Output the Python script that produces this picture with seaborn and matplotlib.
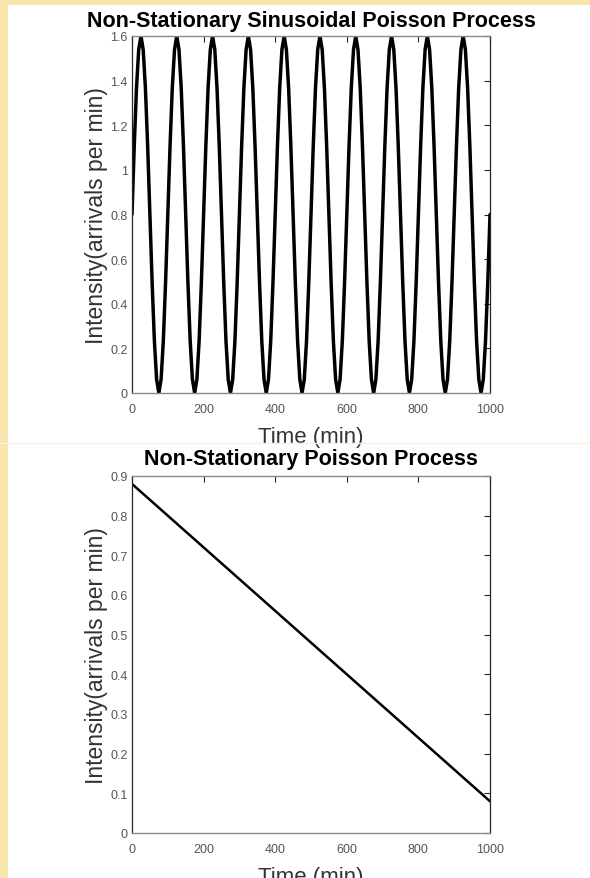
import matplotlib
matplotlib.use('Agg')
import matplotlib.pyplot as plt
import seaborn as sns
import numpy as np
import pandas as pd
from matplotlib.patches import Rectangle
from matplotlib.lines import Line2D

# intensity every 6.25 min (period ~100 min)
sin_values = [
    0.8, 1.106, 1.366, 1.539, 1.6, 1.539, 1.366, 1.106, 0.8, 0.494, 0.234, 0.061, 0.0, 0.061, 0.234, 0.494,
    0.8, 1.106, 1.366, 1.539, 1.6, 1.539, 1.366, 1.106, 0.8, 0.494, 0.234, 0.061, 0.0, 0.061, 0.234, 0.494,
    0.8, 1.106, 1.366, 1.539, 1.6, 1.539, 1.366, 1.106, 0.8, 0.494, 0.234, 0.061, 0.0, 0.061, 0.234, 0.494,
    0.8, 1.106, 1.366, 1.539, 1.6, 1.539, 1.366, 1.106, 0.8, 0.494, 0.234, 0.061, 0.0, 0.061, 0.234, 0.494,
    0.8, 1.106, 1.366, 1.539, 1.6, 1.539, 1.366, 1.106, 0.8, 0.494, 0.234, 0.061, 0.0, 0.061, 0.234, 0.494,
    0.8, 1.106, 1.366, 1.539, 1.6, 1.539, 1.366, 1.106, 0.8, 0.494, 0.234, 0.061, 0.0, 0.061, 0.234, 0.494,
    0.8, 1.106, 1.366, 1.539, 1.6, 1.539, 1.366, 1.106, 0.8, 0.494, 0.234, 0.061, 0.0, 0.061, 0.234, 0.494,
    0.8, 1.106, 1.366, 1.539, 1.6, 1.539, 1.366, 1.106, 0.8, 0.494, 0.234, 0.061, 0.0, 0.061, 0.234, 0.494,
    0.8, 1.106, 1.366, 1.539, 1.6, 1.539, 1.366, 1.106, 0.8, 0.494, 0.234, 0.061, 0.0, 0.061, 0.234, 0.494,
    0.8, 1.106, 1.366, 1.539, 1.6, 1.539, 1.366, 1.106, 0.8, 0.494, 0.234, 0.061, 0.0, 0.061, 0.234, 0.494,
    0.8,
]
sin_time = np.linspace(0, 1000, len(sin_values))

# linear decreasing intensity
lin_time = [0, 1000]
lin_values = [0.88, 0.08]

titles = ['Non-Stationary Sinusoidal Poisson Process', 'Non-Stationary Poisson Process']
xlabel = 'Time (min)'
ylabel = 'Intensity(arrivals per min)'
x_ticks = [0, 200, 400, 600, 800, 1000]
y_ticks_top = [0, 0.2, 0.4, 0.6, 0.8, 1.0, 1.2, 1.4, 1.6]
y_labels_top = ['0', '0.2', '0.4', '0.6', '0.8', '1', '1.2', '1.4', '1.6']
y_ticks_bottom = [0, 0.1, 0.2, 0.3, 0.4, 0.5, 0.6, 0.7, 0.8, 0.9]
y_labels_bottom = ['0', '0.1', '0.2', '0.3', '0.4', '0.5', '0.6', '0.7', '0.8', '0.9']

sns.set_style('white')
plt.rcParams['font.family'] = ['Liberation Sans', 'DejaVu Sans']

W, H = 590, 879
fig = plt.figure(figsize=(W / 100, H / 100), dpi=100, facecolor='#f9e4ae')
# white sheet over the beige backdrop
fig.add_artist(Rectangle((8 / W, 0), 1, 1 - 6 / H, transform=fig.transFigure,
                         facecolor='white', edgecolor='none', zorder=-1))
fig.add_artist(Line2D([0, 1], [1 - 444 / H] * 2, transform=fig.transFigure,
                      color='#faf3dc', lw=1))

ax1 = fig.add_axes([132 / W, 1 - 394 / H, 358 / W, 357 / H])
ax2 = fig.add_axes([132 / W, 1 - 834 / H, 358 / W, 357 / H])

df1 = pd.DataFrame({'t': sin_time, 'rate': sin_values})
df2 = pd.DataFrame({'t': lin_time, 'rate': lin_values})
sns.lineplot(data=df1, x='t', y='rate', ax=ax1, color='black', linewidth=2.5)
sns.lineplot(data=df2, x='t', y='rate', ax=ax2, color='black', linewidth=1.8)


def style(ax, title, yticks, ylabels, ymax, tpad):
    ax.set_xlim(0, 1000)
    ax.set_ylim(0, ymax)
    ax.set_xticks(x_ticks)
    ax.set_xticklabels([str(v) for v in x_ticks])
    ax.set_yticks(yticks)
    ax.set_yticklabels(ylabels)
    ax.tick_params(direction='in', length=4, width=0.8, top=True, right=True,
                   labelsize=9, labelcolor='#555555', color='#262626')
    ax.tick_params(axis='x', pad=7)
    ax.tick_params(axis='y', pad=3)
    for s in ['left', 'right']:
        ax.spines[s].set_color('#262626')
        ax.spines[s].set_linewidth(0.9)
    for s in ['top', 'bottom']:
        ax.spines[s].set_color('#8a8a8a')
        ax.spines[s].set_linewidth(1.0)
    ax.set_title(title, fontsize=15.5, fontweight='bold', color='black', pad=tpad)
    ax.set_xlabel(xlabel, fontsize=16, color='#333333', labelpad=8)
    ax.set_ylabel(ylabel, fontsize=16.5, color='#333333', labelpad=2)


style(ax1, titles[0], y_ticks_top, y_labels_top, 1.6, 7)
style(ax2, titles[1], y_ticks_bottom, y_labels_bottom, 0.9, 8.5)

fig.savefig('out.png', dpi=100, facecolor=fig.get_facecolor())
